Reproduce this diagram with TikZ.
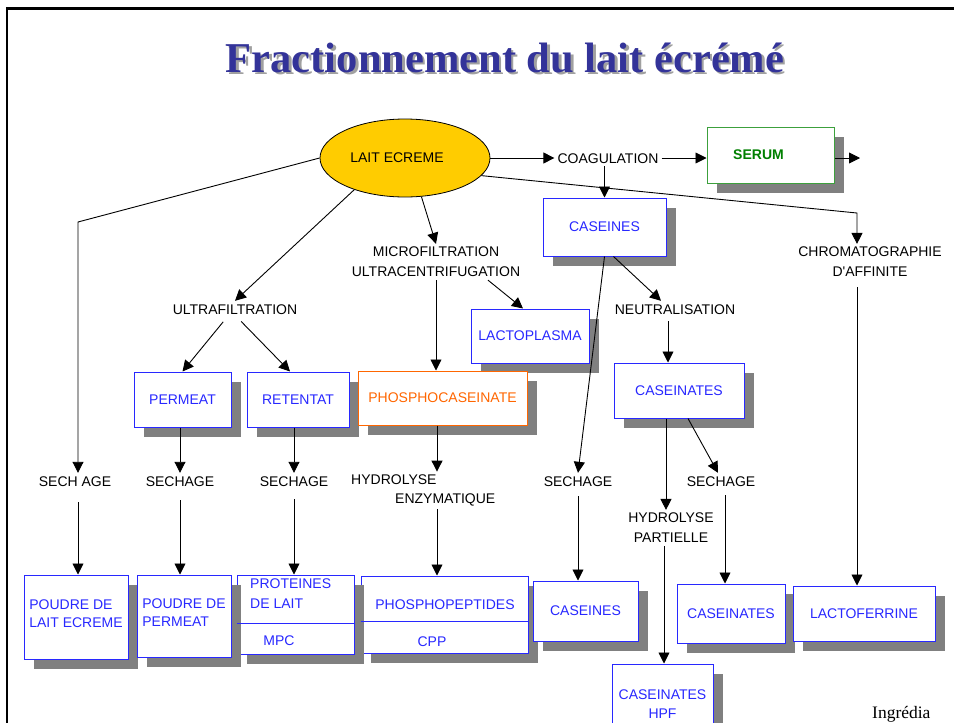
\documentclass[tikz,border=0pt]{standalone}
\usepackage{fontspec}
\setmainfont{Liberation Sans}
\newfontfamily\serifface{Liberation Serif}
\usetikzlibrary{shadows,arrows.meta,calc,shapes.geometric}

\definecolor{boxblue}{RGB}{40,40,255}
\definecolor{textblue}{RGB}{40,40,255}
\definecolor{orng}{RGB}{255,102,0}
\definecolor{grn}{RGB}{0,128,0}
\definecolor{grnborder}{RGB}{60,160,60}
\definecolor{shgray}{RGB}{128,128,128}
\definecolor{ellfill}{RGB}{255,204,0}
\definecolor{titleblue}{RGB}{51,51,153}
\definecolor{titleshade}{RGB}{160,160,160}

\begin{document}
\begin{tikzpicture}[x=1pt,y=-1pt,
  lbl/.style={font=\fontsize{14}{20}\selectfont, inner sep=3pt, text height=10pt, text depth=0pt},
  mlbl/.style={font=\fontsize{14}{20}\selectfont, inner sep=3pt, align=center},
  sbox/.style={draw=boxblue, line width=1pt, fill=white, text=textblue,
    font=\fontsize{14}{18}\selectfont, inner sep=2pt,
    drop shadow={shadow xshift=10pt, shadow yshift=-10pt, fill=shgray, opacity=1}},
  btxt/.style={text=textblue, font=\fontsize{14}{20}\selectfont, inner sep=3pt},
  arr/.style={draw=black, line width=0.9pt, -{Triangle[length=11pt,width=11pt]}},
]
\path[use as bounding box, clip] (0,0) rectangle (954,723);
\fill[white] (0,0) rectangle (954,723);

% frame
\draw[line width=2.5pt, line join=miter] (7,740) -- (7,8.5) -- (970,8.5);

% title
\node[font=\serifface\bfseries\fontsize{42.5}{50}\selectfont, text=titleshade, anchor=base] (titleshadow) at (507.5,74.5) {Fractionnement du lait écrémé};
\node[font=\serifface\bfseries\fontsize{42.5}{50}\selectfont, text=titleblue, anchor=base] (title) at (505,72) {Fractionnement du lait écrémé};

% top
\node[ellipse, draw=black, line width=0.8pt, fill=ellfill, minimum width=170pt, minimum height=78pt, inner sep=0pt, font=\fontsize{14}{18}\selectfont] (lait) at (405,158) {\hspace*{-8pt}LAIT ECREME\hspace*{8pt}};
\node[lbl] (coag) at (608,158) {COAGULATION};
\node[draw=grnborder, line width=1pt, fill=white, text=grn, font=\fontsize{14}{18}\selectfont\bfseries, minimum width=127pt, minimum height=56pt,
  drop shadow={shadow xshift=10pt, shadow yshift=-10pt, fill=shgray, opacity=1}] (serum) at (770.5,155) {\hspace*{-12pt}SERUM\hspace*{12pt}};
\coordinate (serumout) at (860,158);

\node[sbox, minimum width=123pt, minimum height=58pt] (caseines1) at (604.5,227) {CASEINES};
\node[lbl] (ultra) at (235,309) {ULTRAFILTRATION};
\node[mlbl] (micro) at (436,262) {MICROFILTRATION\\ULTRACENTRIFUGATION};
\node[mlbl] (chroma) at (870,262) {CHROMATOGRAPHIE\\D\textquotesingle AFFINITE};
\node[sbox, minimum width=118pt, minimum height=54pt] (lactoplasma) at (530,336) {LACTOPLASMA};
\node[lbl] (neutral) at (675,309) {NEUTRALISATION};

\node[sbox, minimum width=97pt, minimum height=55pt] (permeat) at (182.5,399.5) {PERMEAT};
\node[sbox, minimum width=102pt, minimum height=55pt] (retentat) at (298,399.5) {RETENTAT};
\node[sbox, draw=orng, text=orng, minimum width=169pt, minimum height=54pt] (phosphocas) at (442.5,398) {PHOSPHOCASEINATE};
\node[sbox, minimum width=130pt, minimum height=55pt] (caseinates1) at (679,390.5) {CASEINATES};

% middle labels
\node[lbl] (sech1) at (75,481) {SECH AGE};
\node[lbl] (sech2) at (180,481) {SECHAGE};
\node[lbl] (sech3) at (294,481) {SECHAGE};
\node[mlbl, align=left, anchor=west, font=\fontsize{14}{19}\selectfont] (hydenz) at (348,490.5) {HYDROLYSE\\\hspace*{44pt}ENZYMATIQUE};
\node[lbl] (sech4) at (578,481) {SECHAGE};
\node[lbl] (sech5) at (721,481) {SECHAGE};
\node[mlbl] (hydpart) at (671,528) {HYDROLYSE\\PARTIELLE};

% bottom boxes
\node[sbox, align=left, minimum width=104pt, minimum height=84pt] (poudrelait) at (76,617) {POUDRE DE\\LAIT ECREME\\[-12pt]\mbox{}};
\node[sbox, minimum width=167pt, minimum height=77pt] (phosphopep) at (444.5,614.5) {};
\node[sbox, minimum width=117pt, minimum height=79pt] (proteines) at (295.5,614.5) {};
\node[sbox, align=left, minimum width=94pt, minimum height=82pt] (poudreperm) at (184,616) {POUDRE DE\\PERMEAT\\[-12pt]\mbox{}};
\draw[boxblue, line width=1pt] ([yshift=-8.5pt]proteines.west) -- ([yshift=-8.5pt]proteines.east);
\draw[boxblue, line width=1pt] ([yshift=-6.5pt]phosphopep.west) -- ([yshift=-6.5pt]phosphopep.east);
\node[btxt, anchor=west, align=left] (proteinestxt) at (247,594) {PROTEINES\\DE LAIT};
\node[btxt] (mpc) at (279,641) {MPC};
\node[btxt] (phosphopeptxt) at (445,605) {PHOSPHOPEPTIDES};
\node[btxt] (cpp) at (432,642) {CPP};
\node[sbox, minimum width=105pt, minimum height=60pt] (caseines2) at (585.5,611) {CASEINES};
\node[sbox, minimum width=108pt, minimum height=59pt] (caseinates2) at (731,613.5) {CASEINATES};
\node[sbox, minimum width=142pt, minimum height=55pt] (lactoferrine) at (864,613.5) {LACTOFERRINE};
\node[sbox, align=center, minimum width=101pt, minimum height=80pt, font=\fontsize{14}{19}\selectfont] (hpf) at (662.5,704) {CASEINATES\\HPF};

\node[font=\serifface\fontsize{17.5}{20}\selectfont, anchor=base west, inner sep=0pt] (ingredia) at (872,718) {Ingrédia};

% connectors
\coordinate (c1) at (78,222);
\coordinate (c2) at (857,213);
\draw[arr] (lait.west) -- (c1) -- (c1 |- sech1.north);
\draw[arr, shorten <=13pt] (c1 |- sech1.south) -- (c1 |- poudrelait.north);
\draw[arr] (lait.212) -- (ultra.north);
\draw[arr] (lait.293) -- (micro.north);
\draw[arr] (lait.347) -- (c2) -- (c2 |- chroma.north);
\draw[arr] (lait.east) -- (coag.west);
\draw[arr] (coag.east) -- (coag.east -| serum.west);
\draw[arr] (serum.east |- serumout) -- (serumout);
\draw[arr] (coag.south -| caseines1.north) -- (caseines1.north);
\draw[arr, shorten <=6pt] ([xshift=-8pt]ultra.south) -- (permeat.north);
\draw[arr, shorten <=6pt] ([xshift=2pt]ultra.south) -- ([xshift=-8pt]retentat.north);
\draw[arr] (micro.south) -- (micro.south |- phosphocas.north);
\draw[arr] ([xshift=52pt]micro.south) -- ([xshift=-7pt]lactoplasma.north);
\draw[arr] (caseines1.south) -- (sech4.north);
\draw[arr] ([xshift=9pt]caseines1.south) -- ([xshift=-14pt]neutral.north);
\draw[arr, shorten <=4pt] ([xshift=-7pt]neutral.south) -- ([xshift=-7pt]neutral.south |- caseinates1.north);
\draw[arr] ([xshift=-13pt]caseinates1.south) -- ([xshift=-13pt]caseinates1.south |- hydpart.north);
\draw[arr] ([xshift=9pt]caseinates1.south) -- ([xshift=-3pt]sech5.north);
\draw[arr, shorten <=6pt] ([xshift=4pt]sech5.south) -- ([xshift=4pt]sech5.south |- caseinates2.north);
\draw[arr] ([xshift=-7pt]hydpart.south) -- ([xshift=-7pt]hydpart.south |- hpf.north);
\draw[arr, shorten <=7pt] (sech4.south) -- (sech4.south |- caseines2.north);
\draw[arr, shorten <=7pt] (c2 |- chroma.south) -- (c2 |- lactoferrine.north);
\draw[arr] (sech2.north |- permeat.south) -- (sech2.north);
\draw[arr, shorten <=11pt] (sech2.south) -- (sech2.south |- poudreperm.north);
\draw[arr] (sech3.north |- retentat.south) -- (sech3.north);
\draw[arr, shorten <=10pt] (sech3.south) -- (sech3.south |- proteines.north);
\draw[arr] ([xshift=-5.5pt]phosphocas.south) -- ([xshift=-5.5pt]phosphocas.south |- hydenz.north);
\draw[arr] ([xshift=-5.5pt]phosphocas.south |- hydenz.south) -- ([xshift=-5.5pt]phosphocas.south |- phosphopep.north);
\end{tikzpicture}
\end{document}
